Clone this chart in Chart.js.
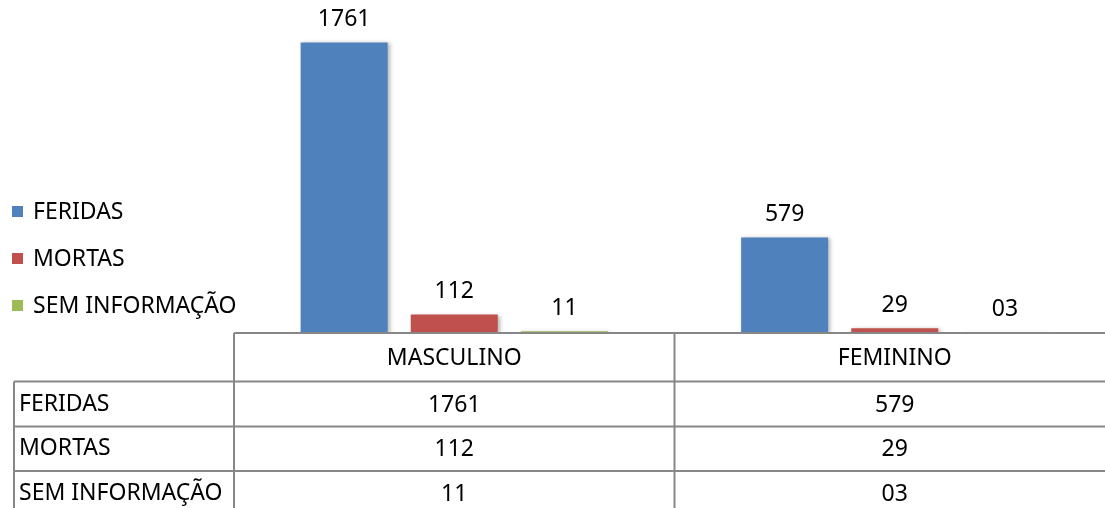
<!DOCTYPE html>
<html>
<head>
<meta charset="utf-8">
<script src="https://cdn.jsdelivr.net/npm/chart.js@4.4.1/dist/chart.umd.min.js"></script>
<style>
    html, body { margin: 0; padding: 0; background: #fff; overflow: hidden; }
    #wrap { width: 1115px; height: 508px; }
</style>
</head>
<body>
<div id="wrap"><canvas id="chart" width="1115" height="508"></canvas></div>
<script>
// Data
const categories = ['MASCULINO', 'FEMININO'];
const seriesNames = ['FERIDAS', 'MORTAS', 'SEM INFORMAÇÃO'];
const feridas = [1761, 579];
const mortas = [112, 29];
const semInfo = [11, 3];
// text as printed in the table / labels
const feridasText = ['1761', '579'];
const mortasText = ['112', '29'];
const semInfoText = ['11', '03'];

const seriesColors = ['#4F81BD', '#C0504D', '#9BBB59'];
const seriesValues = [feridas, mortas, semInfo];
const seriesTexts = [feridasText, mortasText, semInfoText];

const FONT = '23px "Noto Sans", sans-serif';
const LINE = '#878787';

// Bars shadow, value labels, legend and data table
const tablePlugin = {
    id: 'tablePlugin',
    beforeDatasetsDraw(chart) {
        const ctx = chart.ctx;
        ctx.save();
        ctx.shadowColor = 'rgba(0,0,0,0.3)';
        ctx.shadowBlur = 4;
        ctx.shadowOffsetX = 2;
        ctx.shadowOffsetY = 1;
    },
    afterDatasetsDraw(chart) {
        const ctx = chart.ctx;
        ctx.restore();
        ctx.save();
        ctx.font = FONT;
        ctx.fillStyle = '#000';
        ctx.textAlign = 'center';
        ctx.textBaseline = 'middle';
        chart.data.datasets.forEach((ds, i) => {
            chart.getDatasetMeta(i).data.forEach((bar, j) => {
                ctx.fillText(seriesTexts[i][j], bar.x, bar.y - 23);
            });
        });
        ctx.restore();
    },
    afterDraw(chart) {
        const ctx = chart.ctx;
        const area = chart.chartArea;
        const xs = chart.scales.x;
        const W = chart.width;
        const H = chart.height;
        const catW = (area.right - area.left) / categories.length;
        const top = area.bottom;
        const rows = [top + 48.5, top + 93.5, top + 138];
        const tableLeft = 14;

        ctx.save();
        // Legend
        ctx.font = FONT;
        ctx.textBaseline = 'middle';
        ctx.textAlign = 'left';
        seriesNames.forEach((name, i) => {
            const y = 211 + i * 47;
            ctx.fillStyle = seriesColors[i];
            ctx.fillRect(12, y - 5, 11, 11);
            ctx.fillStyle = '#000';
            ctx.fillText(name, 33, y + 1);
        });

        // Table grid
        ctx.strokeStyle = LINE;
        ctx.lineWidth = 2;
        ctx.beginPath();
        ctx.moveTo(area.left, top);
        ctx.lineTo(W, top);
        rows.forEach(y => {
            ctx.moveTo(tableLeft, y);
            ctx.lineTo(W, y);
        });
        for (let i = 0; i <= categories.length; i++) {
            const x = area.left + i * catW;
            ctx.moveTo(x, top);
            ctx.lineTo(x, H);
        }
        ctx.moveTo(tableLeft, rows[0]);
        ctx.lineTo(tableLeft, H);
        ctx.stroke();

        // Table text
        ctx.fillStyle = '#000';
        ctx.textAlign = 'center';
        categories.forEach((c, j) => {
            const cx = xs.getPixelForValue(j);
            ctx.fillText(c, cx, top + 25);
            seriesTexts.forEach((txt, i) => {
                const y0 = rows[i];
                const y1 = i < rows.length - 1 ? rows[i + 1] : y0 + 45;
                ctx.fillText(txt[j], cx, (y0 + y1) / 2 + 1);
            });
        });
        ctx.textAlign = 'left';
        seriesNames.forEach((name, i) => {
            const y0 = rows[i];
            const y1 = i < rows.length - 1 ? rows[i + 1] : y0 + 45;
            ctx.fillText(name, 19, (y0 + y1) / 2);
        });
        ctx.restore();
    }
};

document.addEventListener('DOMContentLoaded', function () {
    const ctx = document.getElementById('chart').getContext('2d');
    new Chart(ctx, {
        type: 'bar',
        data: {
            labels: categories,
            datasets: seriesNames.map((name, i) => ({
                label: name,
                data: seriesValues[i],
                backgroundColor: seriesColors[i],
                borderWidth: 0,
                categoryPercentage: 0.75,
                barPercentage: 0.79
            }))
        },
        options: {
            responsive: false,
            animation: false,
            layout: {
                padding: { left: 234, right: 0, top: 3, bottom: 175 }
            },
            scales: {
                x: { display: false },
                y: { display: false, min: 0, max: 2000 }
            },
            plugins: {
                legend: { display: false },
                tooltip: { enabled: false }
            }
        },
        plugins: [tablePlugin]
    });
});
</script>
</body>
</html>
